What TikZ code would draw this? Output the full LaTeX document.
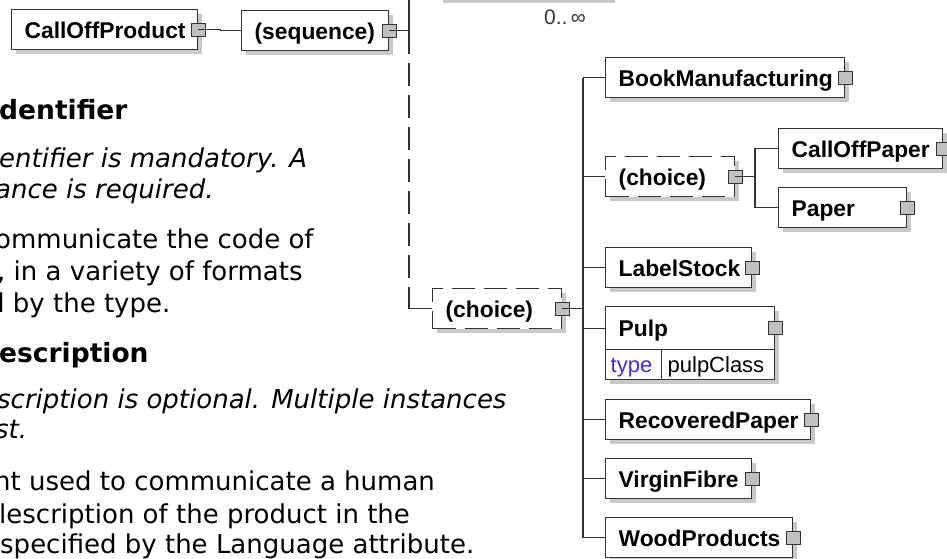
\documentclass[tikz,border=0pt]{standalone}
\usepackage{fontspec}
\usetikzlibrary{shadows}
\newfontfamily\boxfont{Liberation Sans}
\newfontfamily\docfont{DejaVu Sans}
\definecolor{xsline}{HTML}{333333}
\definecolor{xsshade}{HTML}{C8C8C8}
\definecolor{xsknob}{HTML}{C0C0C0}
\definecolor{xstype}{HTML}{3C2CF0}

\begin{document}
\begin{tikzpicture}[
  x=1pt, y=-1pt,
  elem/.style={draw=xsline, line width=1.3pt, fill=white, anchor=north west,
    inner xsep=13pt, inner ysep=0pt, minimum height=40pt, align=left,
    text height=16.8pt, text depth=0pt,
    font=\boxfont\bfseries\fontsize{22.8}{26}\selectfont,
    drop shadow={shadow xshift=4pt, shadow yshift=-4pt, fill=xsshade, opacity=1}},
  group/.style={elem, dash pattern=on 23pt off 9pt},
  attr/.style={elem, minimum height=30pt, inner xsep=5pt, text height=16pt,
    font=\boxfont\fontsize{22}{24}\selectfont},
  knob/.style={draw=xsline, fill=xsknob, line width=1pt, minimum width=14pt,
    minimum height=13pt, inner sep=0pt},
  conn/.style={draw=xsline, line width=1.3pt},
  opt/.style={conn, dash pattern=on 23pt off 9pt},
  doc/.style={anchor=base west, inner sep=0pt,
    font=\docfont\fontsize{26}{30}\selectfont},
  dochead/.style={doc, font=\docfont\bfseries\fontsize{26.5}{30}\selectfont},
  docnote/.style={doc, font=\docfont\itshape\fontsize{26}{30}\selectfont}
]
\useasboundingbox[fill=white] (0,0) rectangle (947,559);

% documentation text, cut at the left edge
\node[dochead] (idhead) at (-1,120) {dentifier};
\node[docnote] (idnote1) at (-1,167) {entifier is mandatory. A};
\node[docnote] (idnote2) at (-5,198) {ance is required.};
\node[doc] (idtext1) at (-5,248) {ommunicate the code of};
\node[doc] (idtext2) at (-3,280) {, in a variety of formats};
\node[doc] (idtext3) at (-12,312) {d by the type.};
\node[dochead] (dshead) at (-1,362) {escription};
\node[docnote] (dsnote1) at (-3,408) {scription is optional. Multiple instances};
\node[docnote] (dsnote2) at (-5,438) {st.};
\node[doc] (dstext1) at (-6,490) {nt used to communicate a human};
\node[doc] (dstext2) at (-1,523) {lescription of the product in the};
\node[doc] (dstext3) at (0,553) {specified by the Language attribute.};

% element above, cut at the top edge
\fill[xsshade] (443,0) rectangle (615,3);
\node[font=\boxfont\fontsize{21}{24}\selectfont, anchor=base, text=xsline]
  (occurs) at (565,25) {0..\,∞};

% schema boxes
\node[elem, text width=160pt] (cop) at (11,9) {CallOffProduct};
\node[elem, text width=121pt] (seq) at (241,10) {(sequence)};
\node[group, text width=103pt] (ch1) at (432,288) {(choice)};

\node[elem, text width=213pt] (book) at (605,57) {BookManufacturing};
\node[group, text width=103pt] (ch2) at (605,156) {(choice)};
\node[elem, text width=138pt] (cofp) at (778,128) {CallOffPaper};
\node[elem, text width=102pt] (paper) at (778,187) {Paper};
\node[elem, text width=120pt] (label) at (605,247) {LabelStock};
\node[elem, text width=143pt, minimum height=43pt] (pulp) at (605,306) {Pulp};
\node[attr, text width=46pt, text=xstype] (pulpkey) at (605,349) {type};
\node[attr, text width=101pt, inner xsep=6pt] (pulpval) at (661,349) {pulpClass};
\node[elem, text width=179pt] (recov) at (605,399) {RecoveredPaper};
\node[elem, text width=120pt] (virgin) at (605,458) {VirginFibre};
\node[elem, text width=161pt] (wood) at (605,517) {WoodProducts};

% expand knobs
\foreach \b in {cop,seq,ch1,book,ch2,cofp,paper,label,pulp,recov,virgin,wood}
  \node[knob] (k\b) at (\b.east) {};

% connectors
\coordinate (top) at (409,0);
\coordinate (bus) at (583,78);
\coordinate (bus2) at (755,175);

\draw[conn] (kcop.center) -- ++(22,0) |- (seq.west);
\draw[conn] (top) -- (top |- kseq.center);
\draw[conn] (kseq.center) -- (kseq.center -| top);
\draw[opt] (kseq.center -| top) -- (ch1.west -| top);
\draw[conn] (ch1.west -| top) ++(0,-14) |- (ch1.west);

\draw[conn] (kch1.center) -- (kch1.center -| bus);
\draw[conn] (book.west -| bus) -- (wood.west -| bus);
\foreach \c in {book,ch2,label,pulp,recov,virgin,wood}
  \draw[conn] (\c.west) -- (\c.west -| bus);

\draw[conn] (kch2.center) -- (kch2.center -| bus2);
\draw[conn] (cofp.west) -| (bus2) |- (paper.west);

\end{tikzpicture}
\end{document}
